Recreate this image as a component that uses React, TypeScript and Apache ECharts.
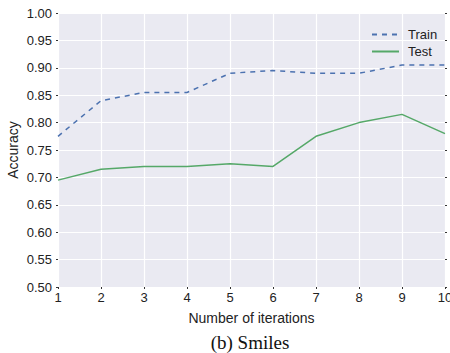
import React, { useEffect, useRef } from "react";
import * as echarts from "echarts";

const iterations = [1, 2, 3, 4, 5, 6, 7, 8, 9, 10];
const trainAcc = [0.775, 0.84, 0.855, 0.855, 0.89, 0.895, 0.89, 0.89, 0.905, 0.905];
const testAcc = [0.695, 0.715, 0.72, 0.72, 0.725, 0.72, 0.775, 0.8, 0.815, 0.78];

export default function App() {
  const ref = useRef<HTMLDivElement>(null);
  useEffect(() => {
    document.body.style.margin = "0";
    if (!ref.current) return;
    const chart = echarts.init(ref.current, undefined, { renderer: "svg" });
    const font = "'Liberation Sans', Arial, sans-serif";
    chart.setOption({
      animation: false,
      backgroundColor: "#ffffff",
      grid: {
        left: 58,
        right: 5,
        top: 13,
        bottom: 66,
        show: true,
        backgroundColor: "#EAEAF2",
        borderWidth: 0,
        containLabel: false,
        outerBoundsMode: "none",
      },
      title: {
        text: "(b) Smiles",
        left: 245,
        textAlign: "center",
        top: 328,
        textStyle: { fontFamily: "'Liberation Serif', serif", fontSize: 19, fontWeight: "normal", color: "#111" },
      },
      legend: {
        orient: "vertical",
        left: 366,
        top: 23,
        itemWidth: 27,
        itemHeight: 14,
        itemGap: 4,
        itemStyle: { opacity: 0 },
        textStyle: { fontFamily: font, fontSize: 13, color: "#222", padding: [0, 0, 0, 4] },
        data: ["Train", "Test"],
      },
      xAxis: {
        type: "value",
        min: 1,
        max: 10,
        interval: 1,
        name: "Number of iterations",
        nameLocation: "middle",
        nameGap: 24,
        nameMoveOverlap: false,
        nameTextStyle: { fontFamily: font, fontSize: 14, color: "#222" },
        axisLine: { show: false },
        axisTick: { show: true, length: 2, lineStyle: { color: "#333" } },
        axisLabel: { fontFamily: font, fontSize: 13, color: "#222", margin: 4 },
        splitLine: { show: true, lineStyle: { color: "#ffffff", width: 1.2 } },
      },
      yAxis: [
        {
          type: "value",
          min: 0.5,
          max: 1.0,
          interval: 0.05,
          name: "Accuracy",
          nameLocation: "middle",
          nameGap: 38,
          nameMoveOverlap: false,
          nameTextStyle: { fontFamily: font, fontSize: 14, color: "#222" },
          axisLine: { show: false },
          axisTick: { show: true, length: 2, lineStyle: { color: "#333" } },
          axisLabel: { fontFamily: font, fontSize: 13, color: "#222", margin: 6, formatter: (v: number) => v.toFixed(2) },
          splitLine: { show: true, lineStyle: { color: "#ffffff", width: 1.2 } },
        },
        {
          type: "value",
          position: "right",
          min: 0.5,
          max: 1.0,
          interval: 0.05,
          axisLine: { show: false },
          axisTick: { show: true, length: 2, lineStyle: { color: "#333" } },
          axisLabel: { show: false },
          splitLine: { show: false },
        },
      ],
      series: [
        {
          name: "Train",
          type: "line",
          data: iterations.map((x, i) => [x, trainAcc[i]]),
          symbol: "none",
          lineStyle: { color: "#4C72B0", width: 1.5, type: [5, 5] },
          itemStyle: { color: "#4C72B0" },
        },
        {
          name: "Test",
          type: "line",
          data: iterations.map((x, i) => [x, testAcc[i]]),
          symbol: "none",
          lineStyle: { color: "#55A868", width: 1.5 },
          itemStyle: { color: "#55A868" },
        },
      ],
    });
    return () => chart.dispose();
  }, []);
  return <div ref={ref} style={{ width: 450, height: 353 }} />;
}
